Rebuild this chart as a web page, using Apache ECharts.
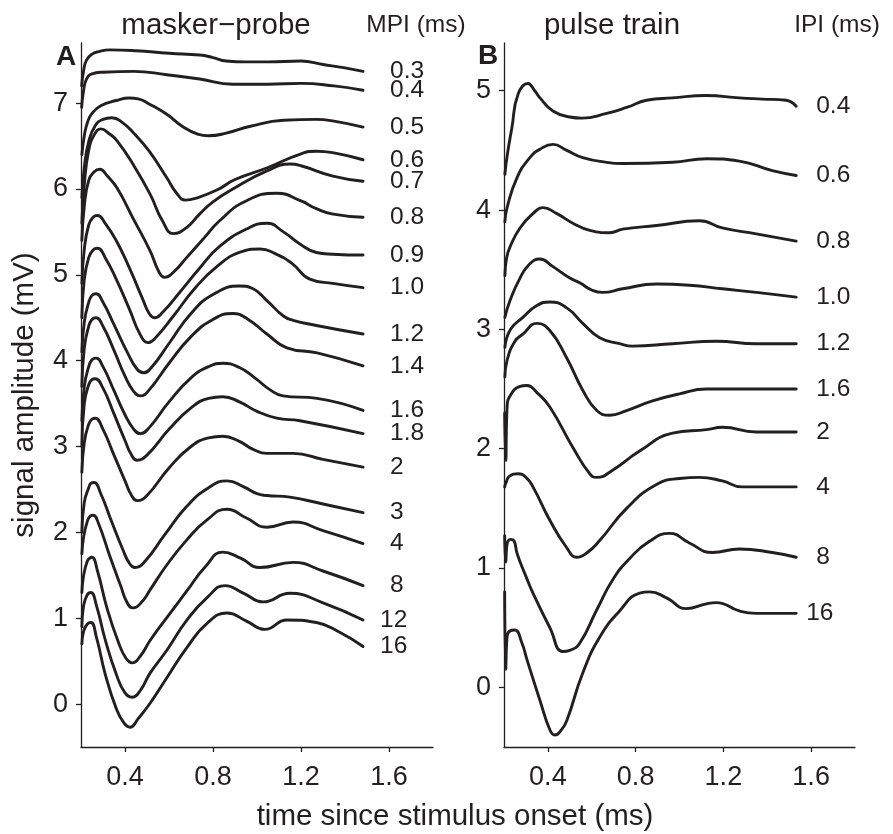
<!DOCTYPE html>
<html>
<head>
<meta charset="utf-8">
<script src="https://cdn.jsdelivr.net/npm/echarts@6/dist/echarts.min.js"></script>
<style>html,body{margin:0;padding:0;background:#fff}#c{width:893px;height:834px}</style>
</head>
<body>
<div id="c"></div>
<script>
// ---------- data ----------
const xTicks = [0.4, 0.8, 1.2, 1.6];
const yTicksA = [0, 1, 2, 3, 4, 5, 6, 7];
const yTicksB = [0, 1, 2, 3, 4, 5];

// Panel A: masker-probe, MPI (ms)
const A_03 = [[0.203,7.2],[0.212,7.38],[0.225,7.5],[0.25,7.57],[0.28,7.6],[0.33,7.62],[0.45,7.61],[0.6,7.58],[0.74,7.56],[0.8,7.53],[0.86,7.49],[0.95,7.48],[1.05,7.48],[1.2,7.49],[1.3,7.45],[1.4,7.41],[1.482,7.37]];
const A_04 = [[0.203,6.95],[0.212,7.15],[0.225,7.28],[0.25,7.34],[0.3,7.36],[0.44,7.37],[0.59,7.33],[0.74,7.28],[0.89,7.22],[1.05,7.22],[1.2,7.23],[1.35,7.2],[1.482,7.15]];
const A_05 = [[0.204,6.4],[0.215,6.62],[0.23,6.78],[0.25,6.88],[0.29,6.97],[0.36,7.03],[0.42,7.06],[0.46,7.05],[0.51,6.99],[0.59,6.87],[0.66,6.73],[0.73,6.64],[0.78,6.62],[0.86,6.65],[0.97,6.73],[1.12,6.8],[1.27,6.81],[1.35,6.79],[1.482,6.72]];
const A_06 = [[0.204,5.9],[0.215,6.25],[0.235,6.55],[0.265,6.74],[0.3,6.81],[0.34,6.83],[0.39,6.77],[0.44,6.65],[0.51,6.44],[0.59,6.13],[0.635,5.95],[0.675,5.87],[0.72,5.89],[0.82,5.99],[0.9,6.11],[1.05,6.25],[1.2,6.41],[1.27,6.44],[1.35,6.42],[1.482,6.34]];
const A_07 = [[0.204,5.6],[0.215,6.05],[0.235,6.45],[0.26,6.63],[0.29,6.7],[0.33,6.64],[0.364,6.56],[0.436,6.29],[0.514,5.94],[0.57,5.63],[0.62,5.48],[0.68,5.55],[0.74,5.71],[0.8,5.85],[0.89,6.0],[1.045,6.21],[1.15,6.29],[1.2,6.27],[1.345,6.15],[1.482,6.09]];
const A_08 = [[0.204,5.4],[0.215,5.8],[0.235,6.1],[0.26,6.2],[0.285,6.23],[0.32,6.15],[0.364,6.01],[0.436,5.66],[0.514,5.28],[0.555,5.03],[0.58,4.97],[0.62,5.03],[0.68,5.2],[0.76,5.43],[0.83,5.63],[0.95,5.86],[1.09,5.95],[1.2,5.86],[1.27,5.77],[1.34,5.71],[1.482,5.67]];
const A_09 = [[0.204,4.9],[0.215,5.3],[0.235,5.58],[0.255,5.67],[0.275,5.69],[0.31,5.6],[0.36,5.4],[0.42,5.08],[0.48,4.72],[0.51,4.55],[0.535,4.5],[0.57,4.56],[0.65,4.8],[0.74,5.08],[0.83,5.33],[0.95,5.53],[1.045,5.6],[1.12,5.5],[1.195,5.36],[1.27,5.26],[1.345,5.24],[1.482,5.23]];
const A_10 = [[0.204,4.5],[0.215,4.95],[0.235,5.2],[0.255,5.29],[0.275,5.31],[0.31,5.2],[0.36,4.95],[0.42,4.6],[0.47,4.3],[0.505,4.21],[0.54,4.27],[0.62,4.52],[0.72,4.85],[0.82,5.1],[0.92,5.26],[1.014,5.3],[1.08,5.25],[1.16,5.13],[1.24,4.95],[1.345,4.9],[1.482,4.85]];
const A_12 = [[0.204,4.1],[0.215,4.45],[0.235,4.68],[0.25,4.76],[0.268,4.78],[0.3,4.68],[0.35,4.42],[0.41,4.1],[0.455,3.9],[0.485,3.86],[0.52,3.92],[0.6,4.2],[0.7,4.55],[0.8,4.77],[0.92,4.87],[0.98,4.84],[1.045,4.7],[1.12,4.52],[1.164,4.47],[1.27,4.41],[1.482,4.31]];
const A_14 = [[0.204,3.7],[0.215,4.15],[0.235,4.4],[0.25,4.48],[0.268,4.5],[0.3,4.4],[0.35,4.12],[0.4,3.82],[0.44,3.64],[0.47,3.59],[0.51,3.66],[0.6,3.97],[0.7,4.28],[0.8,4.48],[0.89,4.55],[0.96,4.48],[1.045,4.31],[1.136,4.15],[1.273,4.09],[1.482,3.94]];
const A_16 = [[0.204,3.3],[0.215,3.7],[0.235,3.93],[0.25,4.01],[0.268,4.03],[0.3,3.93],[0.35,3.65],[0.4,3.37],[0.44,3.2],[0.47,3.15],[0.51,3.22],[0.6,3.52],[0.7,3.8],[0.78,3.93],[0.845,3.97],[0.92,3.92],[0.99,3.8],[1.06,3.66],[1.118,3.59],[1.273,3.56],[1.482,3.42]];
const A_18 = [[0.204,3.0],[0.215,3.5],[0.235,3.72],[0.25,3.78],[0.264,3.79],[0.3,3.68],[0.35,3.38],[0.4,3.07],[0.43,2.9],[0.455,2.84],[0.5,2.9],[0.6,3.2],[0.7,3.45],[0.78,3.56],[0.845,3.58],[0.92,3.52],[1.0,3.41],[1.09,3.33],[1.195,3.3],[1.482,3.15]];
const A_2 = [[0.204,2.7],[0.215,3.05],[0.235,3.26],[0.25,3.32],[0.264,3.33],[0.3,3.2],[0.35,2.9],[0.4,2.6],[0.43,2.43],[0.455,2.37],[0.5,2.43],[0.6,2.75],[0.7,3.0],[0.78,3.1],[0.845,3.12],[0.92,3.06],[0.98,2.97],[1.045,2.92],[1.164,2.92],[1.3,2.85],[1.482,2.76]];
const A_3 = [[0.204,2.0],[0.215,2.35],[0.235,2.52],[0.245,2.57],[0.259,2.58],[0.29,2.45],[0.34,2.12],[0.39,1.8],[0.42,1.64],[0.445,1.59],[0.49,1.66],[0.58,1.97],[0.68,2.3],[0.78,2.52],[0.864,2.6],[0.94,2.53],[1.0,2.45],[1.045,2.43],[1.15,2.41],[1.3,2.33],[1.482,2.23]];
const A_4 = [[0.204,1.75],[0.212,1.95],[0.23,2.14],[0.242,2.19],[0.255,2.2],[0.28,2.1],[0.33,1.73],[0.38,1.38],[0.41,1.18],[0.436,1.12],[0.48,1.2],[0.514,1.33],[0.59,1.62],[0.68,1.91],[0.77,2.14],[0.864,2.27],[0.95,2.17],[1.045,2.06],[1.164,2.12],[1.3,2.02],[1.482,1.87]];
const A_8 = [[0.204,1.3],[0.212,1.5],[0.228,1.66],[0.24,1.7],[0.25,1.71],[0.275,1.55],[0.32,1.1],[0.37,0.72],[0.405,0.53],[0.432,0.48],[0.47,0.56],[0.514,0.74],[0.591,1.01],[0.682,1.32],[0.765,1.6],[0.845,1.77],[0.925,1.7],[1.014,1.59],[1.164,1.65],[1.3,1.55],[1.482,1.38]];
const A_12m = [[0.204,0.9],[0.212,1.15],[0.228,1.27],[0.245,1.3],[0.27,1.15],[0.31,0.75],[0.36,0.35],[0.4,0.13],[0.432,0.08],[0.47,0.16],[0.514,0.36],[0.591,0.63],[0.682,0.98],[0.773,1.24],[0.855,1.38],[0.94,1.29],[1.027,1.19],[1.15,1.29],[1.3,1.18],[1.482,0.98]];
const A_16m = [[0.204,0.7],[0.212,0.85],[0.228,0.93],[0.245,0.95],[0.27,0.78],[0.31,0.35],[0.36,-0.05],[0.395,-0.22],[0.423,-0.27],[0.46,-0.17],[0.514,0.01],[0.591,0.31],[0.682,0.66],[0.773,0.94],[0.864,1.06],[0.95,0.97],[1.036,0.87],[1.136,0.98],[1.27,0.95],[1.38,0.83],[1.482,0.67]];

// Panel B: pulse train, IPI (ms)
const B_04 = [[0.204,4.3],[0.214,4.45],[0.236,4.69],[0.264,4.97],[0.309,5.06],[0.34,5.0],[0.364,4.94],[0.423,4.83],[0.5,4.78],[0.555,4.77],[0.668,4.81],[0.759,4.86],[0.85,4.92],[0.968,4.94],[1.123,4.96],[1.273,4.94],[1.377,4.93],[1.486,4.92],[1.532,4.87]];
const B_06 = [[0.204,3.9],[0.214,4.02],[0.259,4.27],[0.318,4.44],[0.364,4.51],[0.423,4.55],[0.486,4.5],[0.559,4.44],[0.668,4.4],[0.741,4.39],[0.968,4.4],[1.123,4.43],[1.273,4.41],[1.423,4.33],[1.532,4.29]];
const B_08 = [[0.204,3.45],[0.212,3.6],[0.227,3.69],[0.273,3.85],[0.332,3.97],[0.377,4.02],[0.441,3.97],[0.514,3.89],[0.591,3.83],[0.682,3.81],[0.741,3.84],[0.895,3.87],[1.091,3.91],[1.195,3.85],[1.35,3.8],[1.532,3.74]];
const B_10 = [[0.204,3.1],[0.227,3.24],[0.273,3.43],[0.318,3.55],[0.364,3.59],[0.42,3.53],[0.5,3.43],[0.545,3.39],[0.6,3.33],[0.65,3.31],[0.741,3.34],[0.895,3.38],[1.045,3.37],[1.195,3.34],[1.35,3.31],[1.532,3.27]];
const B_12 = [[0.204,2.85],[0.23,3.0],[0.286,3.1],[0.35,3.2],[0.409,3.23],[0.486,3.18],[0.559,3.05],[0.636,2.93],[0.727,2.88],[0.786,2.86],[0.968,2.88],[1.168,2.9],[1.35,2.88],[1.532,2.88]];
const B_16 = [[0.204,2.6],[0.214,2.74],[0.25,2.9],[0.286,2.96],[0.35,3.05],[0.409,2.99],[0.486,2.76],[0.559,2.49],[0.623,2.32],[0.682,2.28],[0.759,2.32],[0.877,2.4],[1.0,2.46],[1.123,2.5],[1.273,2.5],[1.532,2.5]];
const B_2 = [[0.203,2.3],[0.208,1.9],[0.214,2.35],[0.23,2.45],[0.27,2.52],[0.305,2.53],[0.35,2.47],[0.409,2.35],[0.514,2.01],[0.591,1.79],[0.623,1.76],[0.695,1.82],[0.818,1.98],[0.968,2.13],[1.123,2.16],[1.195,2.18],[1.35,2.14],[1.532,2.14]];
const B_4 = [[0.203,1.68],[0.21,1.72],[0.225,1.77],[0.264,1.79],[0.3,1.76],[0.332,1.68],[0.409,1.4],[0.486,1.17],[0.532,1.09],[0.58,1.13],[0.636,1.23],[0.759,1.5],[0.895,1.7],[1.0,1.75],[1.09,1.76],[1.195,1.73],[1.286,1.68],[1.532,1.68]];
const B_8 = [[0.203,1.27],[0.208,1.05],[0.214,1.2],[0.23,1.24],[0.245,1.23],[0.26,1.12],[0.3,0.93],[0.332,0.79],[0.409,0.5],[0.468,0.3],[0.5,0.31],[0.545,0.37],[0.623,0.65],[0.695,0.9],[0.773,1.08],[0.86,1.22],[0.955,1.29],[1.045,1.21],[1.15,1.13],[1.273,1.16],[1.423,1.13],[1.532,1.09]];
const B_16m = [[0.203,0.8],[0.208,0.15],[0.213,0.4],[0.225,0.47],[0.25,0.48],[0.28,0.38],[0.305,0.23],[0.364,-0.11],[0.41,-0.36],[0.432,-0.4],[0.46,-0.36],[0.486,-0.28],[0.559,0.12],[0.636,0.42],[0.727,0.64],[0.818,0.79],[0.864,0.8],[0.941,0.75],[1.032,0.66],[1.123,0.7],[1.168,0.71],[1.273,0.64],[1.35,0.62],[1.532,0.62]];

const tracesA = [['0.3',A_03],['0.4',A_04],['0.5',A_05],['0.6',A_06],['0.7',A_07],['0.8',A_08],['0.9',A_09],['1.0',A_10],['1.2',A_12],['1.4',A_14],['1.6',A_16],['1.8',A_18],['2',A_2],['3',A_3],['4',A_4],['8',A_8],['12',A_12m],['16',A_16m]];
const tracesB = [['0.4',B_04],['0.6',B_06],['0.8',B_08],['1.0',B_10],['1.2',B_12],['1.6',B_16],['2',B_2],['4',B_4],['8',B_8],['16',B_16m]];

// ---------- chart ----------
const INK = '#231f20';
const FONT = '"Liberation Sans", Arial, Helvetica, sans-serif';
const chart = echarts.init(document.getElementById('c'), null, {renderer: 'canvas'});

function xAxisCfg(g) {
  return {
    type: 'value', gridIndex: g, min: 0.2, max: 1.8,
    axisLine: {show: true, onZero: false, lineStyle: {color: INK, width: 1.3}},
    axisTick: {show: true, customValues: xTicks, length: 5, lineStyle: {color: INK, width: 1.3}},
    axisLabel: {show: true, customValues: xTicks, formatter: v => v.toFixed(1), fontSize: 27, color: INK, fontFamily: FONT, margin: 17},
    splitLine: {show: false}
  };
}
function yAxisCfg(g, max, ticks) {
  return {
    type: 'value', gridIndex: g, min: -0.5, max: max,
    axisLine: {show: true, onZero: false, lineStyle: {color: INK, width: 1.3}},
    axisTick: {show: true, customValues: ticks, length: 5, lineStyle: {color: INK, width: 1.3}},
    axisLabel: {show: true, customValues: ticks, formatter: v => String(v), fontSize: 27, color: INK, fontFamily: FONT, margin: 13},
    splitLine: {show: false}
  };
}
function lineSeries(name, data, g) {
  return {
    type: 'line', name: name, data: data, xAxisIndex: g, yAxisIndex: g,
    symbol: 'none', showSymbol: false, smooth: 0.5,
    lineStyle: {color: INK, width: 2.9, cap: 'round', join: 'round'},
    silent: true, animation: false, z: 3
  };
}

const series = [];
tracesA.forEach(([n, d]) => series.push(lineSeries(n, d, 0)));
tracesB.forEach(([n, d]) => series.push(lineSeries(n, d, 1)));

function txt(x, y, s, size, extra) {
  return {type: 'text', x: x, y: y, silent: true,
    style: Object.assign({text: s, fontSize: size, fontFamily: FONT, fill: INK, align: 'center', verticalAlign: 'middle'}, extra || {})};
}

chart.setOption({
  backgroundColor: '#ffffff',
  animation: false,
  grid: [
    {left: 81, top: 43, width: 352, bottom: 87},
    {left: 504, top: 43, width: 351, bottom: 87}
  ],
  xAxis: [xAxisCfg(0), xAxisCfg(1)],
  yAxis: [yAxisCfg(0, 7.7, yTicksA), yAxisCfg(1, 5.4, yTicksB)],
  series: series
});

// trace labels placed at the end of each trace, through the grid's scales
const graphics = [
  txt(216, 26, 'masker\u2212probe', 29.5),
  txt(612, 26, 'pulse train', 29.5),
  txt(416, 25, 'MPI (ms)', 24.5),
  txt(837, 25, 'IPI (ms)', 24.5),
  txt(66, 57, 'A', 28, {fontWeight: 'bold'}),
  txt(488, 56, 'B', 28, {fontWeight: 'bold'}),
  txt(455, 817, 'time since stimulus onset (ms)', 29.5),
  {type: 'text', x: 25, y: 395, rotation: Math.PI / 2, silent: true,
    style: {text: 'signal amplitude (mV)', fontSize: 29.5, fontFamily: FONT, fill: INK, align: 'center', verticalAlign: 'middle'}}
];
function addLabels(list, g, dist) {
  list.forEach(([name, d]) => {
    const p = chart.convertToPixel({gridIndex: g}, d[d.length - 1]);
    const shift = /^\d\d$/.test(name) ? 10 : 0;
    graphics.push(txt(p[0] + dist - shift, p[1], name, 24.5, {align: 'left'}));
  });
}
addLabels(tracesA, 0, 27);
addLabels(tracesB, 1, 20);
chart.setOption({graphic: graphics});
</script>
</body>
</html>
